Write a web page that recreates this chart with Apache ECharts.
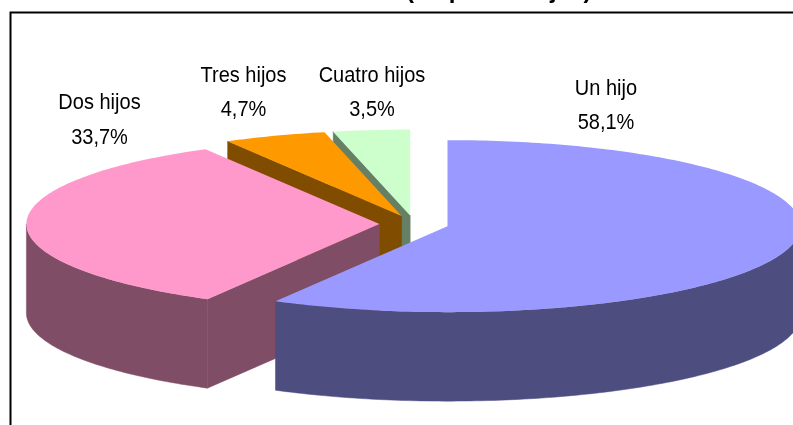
<!DOCTYPE html>
<html>
<head>
<meta charset="utf-8">
<style>html,body{margin:0;padding:0;background:#fff}#c{width:793px;height:425px}</style>
<script src="https://cdn.jsdelivr.net/npm/echarts@6/dist/echarts.min.js"></script>
</head>
<body>
<div id="c"></div>
<script>
const categories = ['Un hijo', 'Dos hijos', 'Tres hijos', 'Cuatro hijos'];
const values = [58.1, 33.7, 4.7, 3.5];
const topColors = ['#9999FF', '#FF99CC', '#FF9900', '#CCFFCC'];
const sideColors = ['#4D4D80', '#804D66', '#804D00', '#668066'];
const titleText = 'Distribución en 1999 (en porcentajes)';

// layout of the tilted pie
const CX = 414, CY = 224, RX = 353, RY = 86, DEPTH = 89, EXPLODE = 34.6, TILT = 0.245;
const LABEL_CENTERS = [[606, 106], [99.5, 120.5], [243.5, 93], [372, 93]];
const LABEL_STRETCH = 1.12;

const total = values.reduce((a, b) => a + b, 0);
const rad = d => d * Math.PI / 180;

function arcPoints(cx, cy, from, to, dy) {
  const pts = [];
  const n = Math.max(2, Math.ceil(Math.abs(to - from)));
  for (let i = 0; i <= n; i++) {
    const t = rad(from + (to - from) * i / n);
    pts.push([cx + RX * Math.sin(t), cy - RY * Math.cos(t) + dy]);
  }
  return pts;
}

function renderSlice(params, api) {
  const i = params.dataIndex;
  const val = api.value(0);
  let before = 0;
  for (let k = 0; k < i; k++) before += values[k];
  const a = before / total * 360;
  const b = (before + val) / total * 360;
  const mid = rad((a + b) / 2);
  const cx = CX + EXPLODE * Math.sin(mid);
  const cy = CY - EXPLODE * TILT * Math.cos(mid);
  const base = (10 - i) * 10;
  const children = [];
  const sideStyle = { fill: sideColors[i], stroke: sideColors[i], lineWidth: 0.5 };

  // outer wall: only the front half of the rim can be seen
  const wa = Math.max(a, 90), wb = Math.min(b, 270);
  if (wb > wa) {
    const upper = arcPoints(cx, cy, wa, wb, 0);
    const lower = arcPoints(cx, cy, wa, wb, DEPTH).reverse();
    children.push({ type: 'polygon', z2: base, shape: { points: upper.concat(lower) }, style: sideStyle, silent: true });
  }
  // cut face at the start of the slice, visible when it looks toward the viewer
  if (a > 180) {
    const tip = arcPoints(cx, cy, a, a, 0)[0];
    children.push({
      type: 'polygon', z2: base + 1,
      shape: { points: [[cx, cy], tip, [tip[0], tip[1] + DEPTH], [cx, cy + DEPTH]] },
      style: sideStyle, silent: true
    });
  }
  // top surface
  children.push({
    type: 'polygon', z2: base + 2,
    shape: { points: [[cx, cy]].concat(arcPoints(cx, cy, a, b, 0)) },
    style: { fill: topColors[i] }, silent: true
  });
  // label
  children.push({
    type: 'text', z2: 1000, silent: true,
    x: LABEL_CENTERS[i][0], y: LABEL_CENTERS[i][1], scaleY: LABEL_STRETCH,
    style: {
      x: 0, y: 0,
      text: categories[i] + '\n' + val.toFixed(1).replace('.', ',') + '%',
      fill: '#000', align: 'center', verticalAlign: 'middle',
      font: '20px "Liberation Sans", Arial, sans-serif', lineHeight: 34.5 / LABEL_STRETCH
    }
  });
  return { type: 'group', children };
}

const chart = echarts.init(document.getElementById('c'), null, { renderer: 'canvas' });
chart.setOption({
  animation: false,
  backgroundColor: '#fff',
  graphic: [
    {
      type: 'polyline', silent: true, z: 0,
      shape: { points: [[10.5, 430], [10.5, 12.5], [800, 12.5]] },
      style: { stroke: '#000', lineWidth: 2, fill: null }
    },
    {
      type: 'text', silent: true, z: 5,
      style: {
        x: 378, y: -8.5, text: titleText, fill: '#000', align: 'center', verticalAlign: 'middle',
        font: 'bold 24px "Liberation Sans", Arial, sans-serif'
      }
    }
  ],
  series: [{
    type: 'custom',
    coordinateSystem: 'none',
    renderItem: renderSlice,
    data: values.map((v, i) => ({ name: categories[i], value: [v] })),
    clip: false
  }]
});
</script>
</body>
</html>
